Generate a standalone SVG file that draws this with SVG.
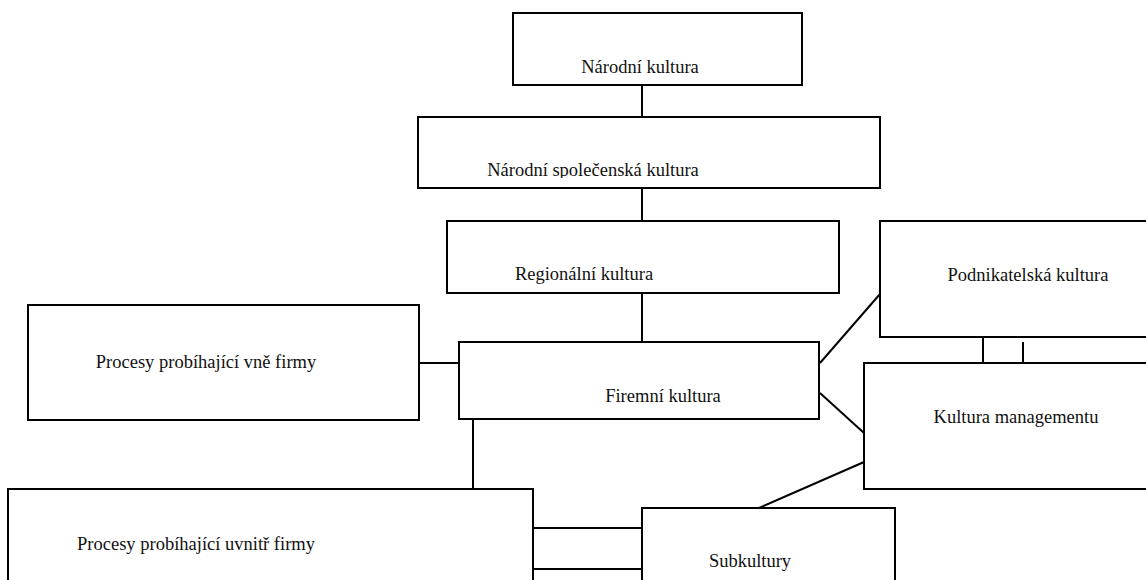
<svg xmlns="http://www.w3.org/2000/svg" width="1146" height="580" viewBox="0 0 1146 580">
<style>
.box{fill:#fff;stroke:#000;stroke-width:2}
.lbl{font-family:"Liberation Serif","Times New Roman",serif;font-size:18.5px;fill:#111;text-anchor:middle}
.c{stroke:#000;stroke-width:2;fill:none}
</style>
<defs>
<clipPath id="clip2"><rect x="418" y="117" width="462" height="61"/></clipPath>
</defs>
<rect width="1146" height="580" fill="#fff"/>
<g id="connectors">
<line class="c" x1="642" y1="85" x2="642" y2="117"/>
<line class="c" x1="642" y1="188" x2="642" y2="221"/>
<line class="c" x1="642" y1="293" x2="642" y2="342"/>
<line class="c" x1="419" y1="363" x2="459" y2="363"/>
<line class="c" x1="473" y1="419" x2="473" y2="489"/>
<line class="c" x1="820" y1="363" x2="880" y2="294"/>
<line class="c" x1="820" y1="393" x2="864" y2="433"/>
<line class="c" x1="864" y1="462" x2="759" y2="508"/>
<line class="c" x1="983" y1="337" x2="983" y2="363"/>
<line class="c" x1="1023" y1="342" x2="1023" y2="363"/>
<line class="c" x1="533" y1="528" x2="642" y2="528"/>
<line class="c" x1="533" y1="569" x2="642" y2="569"/>
</g>
<g id="narodni-kultura">
<rect class="box" x="513" y="13" width="289" height="72"/>
<text class="lbl" x="640" y="73">Národní kultura</text>
</g>
<g id="narodni-spolecenska-kultura">
<rect class="box" x="418" y="117" width="462" height="71"/>
<text class="lbl" x="593" y="176" clip-path="url(#clip2)">Národní společenská kultura</text>
</g>
<g id="regionalni-kultura">
<rect class="box" x="447" y="221" width="392" height="72"/>
<text class="lbl" x="584" y="280">Regionální kultura</text>
</g>
<g id="podnikatelska-kultura">
<rect class="box" x="880" y="221" width="280" height="116"/>
<text class="lbl" x="1028" y="281">Podnikatelská kultura</text>
</g>
<g id="procesy-vne">
<rect class="box" x="28" y="305" width="391" height="115"/>
<text class="lbl" x="206" y="368">Procesy probíhající vně firmy</text>
</g>
<g id="firemni-kultura">
<rect class="box" x="459" y="342" width="360" height="77"/>
<text class="lbl" x="663" y="402">Firemní kultura</text>
</g>
<g id="kultura-managementu">
<rect class="box" x="864" y="363" width="296" height="126"/>
<text class="lbl" x="1016" y="423">Kultura managementu</text>
</g>
<g id="procesy-uvnitr">
<rect class="box" x="8" y="489" width="525" height="110"/>
<text class="lbl" x="196" y="550">Procesy probíhající uvnitř firmy</text>
</g>
<g id="subkultury">
<rect class="box" x="642" y="508" width="253" height="90"/>
<text class="lbl" x="750" y="567">Subkultury</text>
</g>
</svg>
